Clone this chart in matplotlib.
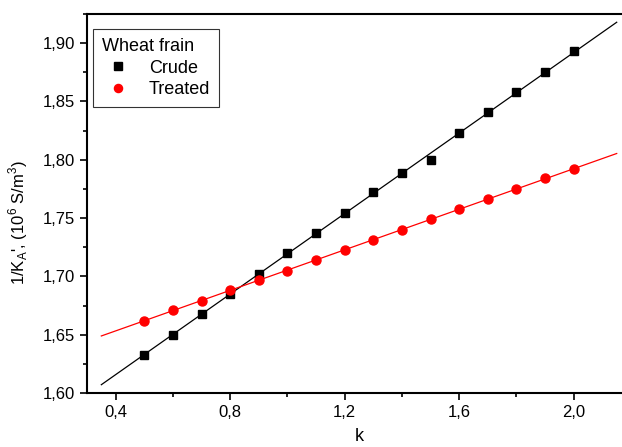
import numpy as np
import matplotlib
matplotlib.use("Agg")
import matplotlib.pyplot as plt
from matplotlib.ticker import MultipleLocator, FuncFormatter

# data
k = [0.5, 0.6, 0.7, 0.8, 0.9, 1.0, 1.1, 1.2, 1.3, 1.4, 1.5, 1.6, 1.7, 1.8, 1.9, 2.0]
crude = [1.633, 1.650, 1.668, 1.685, 1.702, 1.720, 1.737, 1.754, 1.772, 1.789,
         1.800, 1.823, 1.841, 1.858, 1.875, 1.893]
treated = [1.662, 1.671, 1.679, 1.688, 1.697, 1.705, 1.714, 1.723, 1.731, 1.740,
           1.749, 1.758, 1.766, 1.775, 1.784, 1.792]
fit_range = [0.35, 2.15]

plt.rcParams['font.family'] = ['Liberation Sans', 'DejaVu Sans']
plt.rcParams['mathtext.fontset'] = 'custom'
plt.rcParams['mathtext.rm'] = 'Liberation Sans'

fig = plt.figure(figsize=(6.22, 4.47), dpi=100)
ax = fig.add_axes([0.1399, 0.1208, 0.8746, 0.848])

# linear fits
xf = np.array(fit_range)
for y, col in [(crude, 'black'), (treated, 'red')]:
    p = np.polyfit(k, y, 1)
    ax.plot(xf, np.polyval(p, xf), color=col, lw=0.9, zorder=2)

ax.plot(k, crude, 's', color='black', ms=6, label='Crude', zorder=3)
ax.plot(k, treated, 'o', color='red', ms=6.5, label='Treated', zorder=3)

ax.set_xlim(0.3, 2.2)
ax.set_ylim(1.60, 1.925)
ax.xaxis.set_major_locator(MultipleLocator(0.4))
ax.xaxis.set_minor_locator(MultipleLocator(0.2))
ax.yaxis.set_major_locator(MultipleLocator(0.05))
ax.yaxis.set_minor_locator(MultipleLocator(0.025))
ax.xaxis.set_major_formatter(FuncFormatter(lambda v, _: f"{v:.1f}".replace('.', ',')))
ax.yaxis.set_major_formatter(FuncFormatter(lambda v, _: f"{v:.2f}".replace('.', ',')))
ax.tick_params(which='both', direction='out', width=1.2, labelsize=12)
ax.tick_params(which='major', length=5)
ax.tick_params(which='minor', length=3)
for s in ax.spines.values():
    s.set_linewidth(1.5)

ax.set_xlabel('k', fontsize=13, labelpad=6)
ax.set_ylabel("1/K$_\\mathrm{A}$', (10$^\\mathrm{6}$ S/m$^\\mathrm{3}$)", fontsize=12)
ax.yaxis.set_label_coords(-0.105, 0.45)

leg = ax.legend(title='Wheat frain', loc='upper left', bbox_to_anchor=(0.011, 0.96),
                fontsize=13, title_fontsize=13, frameon=True, fancybox=False,
                edgecolor='black', borderpad=0.5, handletextpad=0.8,
                handlelength=1.8, labelspacing=0.25, markerscale=0.9,
                borderaxespad=0)
leg._legend_box.align = 'left'
leg.get_frame().set_linewidth(0.8)

fig.savefig('out.png', dpi=100)
